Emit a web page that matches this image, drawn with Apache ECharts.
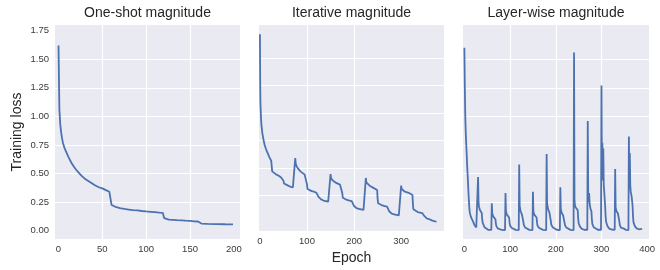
<!DOCTYPE html>
<html>
<head>
<meta charset="utf-8">
<script src="https://cdn.jsdelivr.net/npm/echarts@6/dist/echarts.min.js"></script>
<style>
	html, body { margin: 0; padding: 0; background: #fff; }
	#chart { width: 660px; height: 270px; }
</style>
</head>
<body>
<div id="chart"></div>
<script>
/*panel titles*/
var titles = ["One-shot magnitude", "Iterative magnitude", "Layer-wise magnitude"];
/*tick values*/
var yTicks = [0, 0.25, 0.5, 0.75, 1.0, 1.25, 1.5, 1.75];
var xTicks1 = [0, 50, 100, 150, 200];
var xTicks2 = [0, 100, 200, 300];
var xTicks3 = [0, 100, 200, 300, 400];

/*one-shot: [epoch, loss]*/
var oneShot = [
	[0, 1.62], [1, 1.06], [2, 0.93], [3, 0.86], [4, 0.81], [5, 0.77], [7, 0.72], [9, 0.685],
	[11, 0.65], [13, 0.62], [15, 0.59], [18, 0.555], [21, 0.525], [24, 0.50], [27, 0.475],
	[30, 0.455], [34, 0.435], [38, 0.415], [42, 0.395], [46, 0.38], [50, 0.37], [54, 0.355],
	[58, 0.34], [59.5, 0.335], [60.5, 0.225], [62, 0.215], [66, 0.205], [70, 0.198], [75, 0.19],
	[80, 0.185], [85, 0.18], [90, 0.177], [95, 0.172], [100, 0.168], [105, 0.165], [110, 0.162],
	[115, 0.158], [119, 0.155], [120.5, 0.11], [122, 0.10], [126, 0.097], [130, 0.095], [135, 0.092],
	[140, 0.09], [145, 0.087], [150, 0.085], [155, 0.082], [159, 0.08], [160.5, 0.065], [163, 0.062],
	[170, 0.06], [180, 0.058], [190, 0.056], [199, 0.055]
];

/*iterative: [epoch, loss]*/
var iterative = [
	[0, 1.715], [0.5, 1.30], [1, 1.10], [2, 0.98], [3, 0.90], [5, 0.82], [7, 0.77], [10, 0.71],
	[13, 0.67], [16, 0.64], [20, 0.60], [24, 0.565], [25, 0.55], [26, 0.47], [30, 0.455], [35, 0.44],
	[40, 0.43], [45, 0.415], [49, 0.405], [50, 0.385], [51, 0.36], [55, 0.35], [60, 0.34], [65, 0.33],
	[70, 0.325], [74, 0.315],
	[75, 0.59], [76, 0.54], [78, 0.515], [82, 0.49], [86, 0.47], [90, 0.455], [95, 0.44], [99, 0.425],
	[100, 0.35], [101, 0.31], [105, 0.30], [110, 0.29], [115, 0.285], [120, 0.275], [124, 0.265],
	[125, 0.235], [126, 0.22], [130, 0.215], [135, 0.205], [140, 0.20], [145, 0.195], [149, 0.185],
	[150, 0.445], [151, 0.41], [154, 0.39], [158, 0.375], [162, 0.365], [166, 0.355], [170, 0.35],
	[174, 0.34], [175, 0.27], [176, 0.23], [180, 0.22], [185, 0.21], [190, 0.205], [195, 0.20],
	[199, 0.19], [200, 0.155], [201, 0.14], [205, 0.135], [210, 0.13], [215, 0.125], [220, 0.12],
	[224, 0.112],
	[225, 0.41], [226, 0.37], [229, 0.355], [233, 0.34], [237, 0.33], [241, 0.32], [245, 0.315],
	[249, 0.30], [250, 0.22], [251, 0.18], [255, 0.17], [260, 0.16], [265, 0.155], [270, 0.15],
	[274, 0.14], [275, 0.105], [276, 0.09], [280, 0.085], [285, 0.08], [290, 0.075], [295, 0.07],
	[299, 0.062],
	[300, 0.34], [301, 0.31], [304, 0.295], [308, 0.285], [312, 0.28], [316, 0.275], [320, 0.27],
	[324, 0.255], [325, 0.17], [326, 0.125], [330, 0.11], [335, 0.10], [340, 0.095], [345, 0.09],
	[349, 0.082], [350, 0.06], [351, 0.045], [355, 0.04], [360, 0.035], [365, 0.025], [370, 0.018],
	[375, 0.012]
];

/*layer-wise: [epoch, loss]*/
var layerWise = [
	[0, 1.60], [1, 1.25], [2, 1.0], [3, 0.86], [4, 0.76], [5, 0.68], [6, 0.58], [7, 0.50], [8, 0.42],
	[9, 0.33], [10, 0.26], [11, 0.19], [12, 0.155], [14, 0.125], [16, 0.105], [18, 0.09], [20, 0.07],
	[22, 0.05], [24, 0.035], [26, 0.028], [29, 0.024],
	[30, 0.47], [31, 0.25], [32, 0.21], [34, 0.18], [36, 0.165], [38, 0.155], [39, 0.10], [40, 0.07],
	[42, 0.05], [44, 0.03], [47, 0.015], [52, 0.008], [59, 0.006],
	[60, 0.24], [61, 0.15], [63, 0.125], [66, 0.11], [68, 0.10], [69, 0.06], [70, 0.04], [73, 0.02],
	[77, 0.01], [82, 0.006], [89, 0.005],
	[90, 0.33], [91, 0.17], [93, 0.14], [96, 0.125], [98, 0.115], [99, 0.07], [100, 0.045], [103, 0.025],
	[107, 0.012], [112, 0.007], [119, 0.005],
	[120, 0.58], [121, 0.22], [123, 0.17], [126, 0.14], [128, 0.13], [129, 0.08], [130, 0.05], [133, 0.027],
	[137, 0.013], [142, 0.007], [149, 0.005],
	[150, 0.34], [151, 0.17], [153, 0.14], [156, 0.125], [158, 0.115], [159, 0.07], [160, 0.045], [163, 0.025],
	[167, 0.012], [172, 0.007], [179, 0.005],
	[180, 0.67], [181, 0.24], [183, 0.19], [186, 0.16], [188, 0.145], [189, 0.09], [190, 0.055], [193, 0.03],
	[197, 0.014], [202, 0.008], [209, 0.005],
	[210, 0.38], [211, 0.19], [213, 0.155], [216, 0.135], [218, 0.125], [219, 0.075], [220, 0.05], [223, 0.027],
	[227, 0.013], [232, 0.007], [239, 0.005],
	[240, 1.56], [241, 0.26], [242, 0.22], [244, 0.20], [246, 0.19], [248, 0.18], [249, 0.11], [250, 0.065],
	[253, 0.035], [257, 0.016], [262, 0.008], [269, 0.006],
	[270, 0.96], [271, 0.28], [272, 0.25], [273, 0.33], [274, 0.24], [276, 0.19], [278, 0.17], [279, 0.10],
	[280, 0.06], [283, 0.03], [287, 0.015], [292, 0.008], [299, 0.006],
	[300, 1.27], [301, 0.44], [302, 0.77], [303, 0.44], [304, 0.72], [305, 0.40], [306, 0.34], [307, 0.28],
	[308, 0.22], [309, 0.13], [310, 0.08], [313, 0.04], [317, 0.018], [322, 0.01], [329, 0.007],
	[330, 0.54], [331, 0.20], [333, 0.17], [336, 0.15], [338, 0.14], [339, 0.085], [340, 0.05], [343, 0.025],
	[346, 0.012], [348, 0.02], [350, 0.008], [352, 0.018], [354, 0.006], [357, 0.012], [359, 0.005],
	[360, 0.825], [361, 0.40], [362, 0.68], [363, 0.40], [364, 0.34], [365, 0.35], [366, 0.30], [368, 0.22],
	[369, 0.13], [370, 0.075], [373, 0.04], [377, 0.02], [382, 0.012], [386, 0.012], [389, 0.015]
];

var FONT = "'Liberation Sans', Arial, sans-serif";
var TEXT = "#262626";
var LINE = "#4c72b0";

/*grid boxes*/
var grids = [
	{ left: 55, top: 25, width: 185, height: 214 },
	{ left: 259, top: 25, width: 185, height: 214 },
	{ left: 463, top: 25, width: 186, height: 214 }
];
var xRanges = [[-4, 207], [-2, 391], [-3, 404]];
var xTickSets = [xTicks1, xTicks2, xTicks3];
var seriesData = [oneShot, iterative, layerWise];

var option = {
	animation: false,
	backgroundColor: "#fff",
	textStyle: { fontFamily: FONT },
	title: [],
	grid: [],
	xAxis: [],
	yAxis: [],
	series: []
};

for(var i = 0; i < 3; i++) {
	var g = grids[i];
	option.title.push({
		text: titles[i],
		left: g.left + g.width / 2,
		top: 6,
		padding: 0,
		textAlign: "center",
		textStyle: { fontFamily: FONT, fontSize: 14, fontWeight: "normal", color: TEXT }
	});
	option.grid.push({
		left: g.left, top: g.top, width: g.width, height: g.height,
		show: true, backgroundColor: "#eaeaf2", borderWidth: 0, containLabel: false
	});
	option.xAxis.push({
		type: "value",
		gridIndex: i,
		min: xRanges[i][0],
		max: xRanges[i][1],
		axisLine: { show: false },
		axisTick: { show: false, customValues: xTickSets[i] },
		axisLabel: {
			customValues: xTickSets[i],
			margin: 5,
			fontSize: 9.5,
			color: "#3a3a3a",
			fontFamily: FONT
		},
		splitLine: { show: true, showMinLine: false, showMaxLine: false, lineStyle: { color: "#fff", width: 1.1 } },
		name: i == 1 ? "Epoch" : "",
		nameLocation: "middle",
		nameGap: 17,
		nameTextStyle: { fontSize: 14, color: TEXT, fontFamily: FONT }
	});
	option.yAxis.push({
		type: "value",
		gridIndex: i,
		min: -0.073,
		max: 1.80,
		axisLine: { show: false },
		axisTick: { show: false, customValues: yTicks },
		axisLabel: {
			show: i == 0,
			customValues: yTicks,
			margin: 6,
			fontSize: 9.5,
			color: "#3a3a3a",
			fontFamily: FONT,
			formatter: function(v) { return v.toFixed(2); }
		},
		splitLine: { show: true, showMinLine: false, showMaxLine: false, lineStyle: { color: "#fff", width: 1.1 } },
		name: i == 0 ? "Training loss" : "",
		nameLocation: "middle",
		nameGap: 31,
		nameTextStyle: { fontSize: 14, color: TEXT, fontFamily: FONT }
	});
	option.series.push({
		type: "line",
		xAxisIndex: i,
		yAxisIndex: i,
		data: seriesData[i],
		showSymbol: false,
		symbol: "none",
		lineStyle: { color: LINE, width: 1.8 },
		emphasis: { disabled: true }
	});
}

var chart = echarts.init(document.getElementById("chart"), null, { renderer: "canvas" });
chart.setOption(option);
</script>
</body>
</html>
